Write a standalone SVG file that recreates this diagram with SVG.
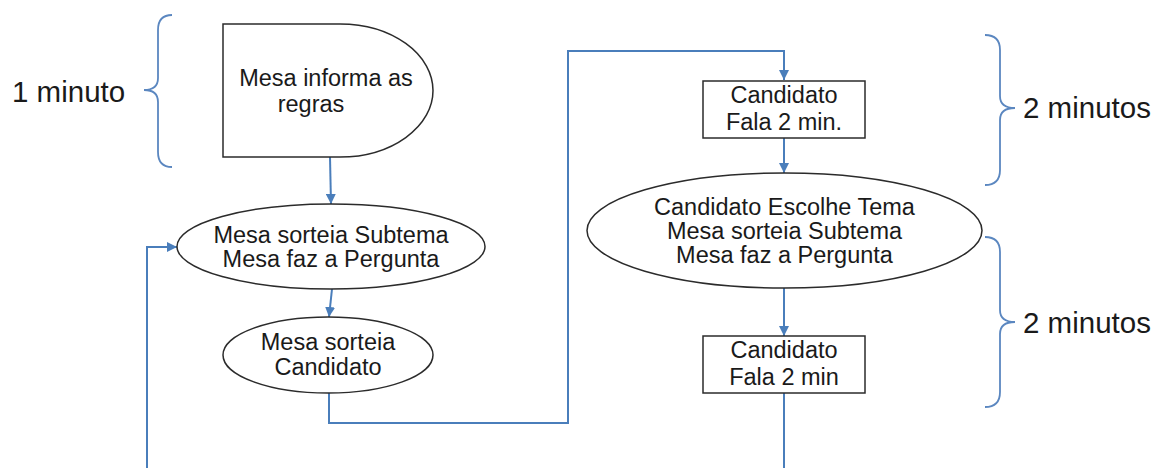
<svg xmlns="http://www.w3.org/2000/svg" width="1164" height="468" viewBox="0 0 1164 468">
<style>
.node{fill:#fff;stroke:#2b2b2b;stroke-width:1.5}
.t{font-family:"Liberation Sans",Arial,sans-serif;font-size:23.5px;fill:#1a1a1a;text-anchor:middle}
.lbl{font-family:"Liberation Sans",Arial,sans-serif;font-size:29.5px;fill:#1a1a1a}
.conn{fill:none;stroke:#4a7ebb;stroke-width:2}
.brace{fill:none;stroke:#5b87c0;stroke-width:1.8}
</style>
<defs>
<marker id="arr" viewBox="0 0 10 10" refX="10" refY="5" markerWidth="5" markerHeight="5" orient="auto" markerUnits="strokeWidth">
<path d="M0,0 L10,5 L0,10 Z" fill="#4a7ebb"/>
</marker>
</defs>
<g id="connectors">
<path class="conn" d="M330,157 L331,204" marker-end="url(#arr)"/>
<path class="conn" d="M332,289 L329,317" marker-end="url(#arr)"/>
<path class="conn" d="M329,393 V423 H568 V51 H784 V80" marker-end="url(#arr)"/>
<path class="conn" d="M784,138 V173" marker-end="url(#arr)"/>
<path class="conn" d="M784,288 V336" marker-end="url(#arr)"/>
<path class="conn" d="M784,393 V468"/>
<path class="conn" d="M147,468 V247 H177" marker-end="url(#arr)"/>
</g>
<g id="braces">
<path class="brace" d="M172,15 Q158,15 158,30 V78 Q158,90 144,90 Q158,90 158,102 V152 Q158,167 172,167"/>
<path class="brace" d="M985,35 Q1000,35 1000,50 V96 Q1000,108 1015,108 Q1000,108 1000,120 V170 Q1000,185 985,185"/>
<path class="brace" d="M985,237 Q1000,237 1000,252 V310 Q1000,322 1015,322 Q1000,322 1000,334 V392 Q1000,407 985,407"/>
</g>
<g id="n_regras">
<path class="node" d="M223,24 H340 A93,66.5 0 0 1 340,157 H223 Z"/>
<text class="t" x="326" y="86">Mesa informa as</text>
<text class="t" x="311" y="112">regras</text>
</g>
<g id="n_sorteia1">
<ellipse class="node" cx="331" cy="246.5" rx="154" ry="42.5"/>
<text class="t" x="331" y="243">Mesa sorteia Subtema</text>
<text class="t" x="331" y="267">Mesa faz a Pergunta</text>
</g>
<g id="n_candidato">
<ellipse class="node" cx="328" cy="355" rx="105" ry="38"/>
<text class="t" x="328" y="350">Mesa sorteia</text>
<text class="t" x="328" y="375">Candidato</text>
</g>
<g id="n_fala1">
<rect class="node" x="703" y="81" width="162" height="57"/>
<text class="t" x="784" y="103">Candidato</text>
<text class="t" x="784" y="130">Fala 2 min.</text>
</g>
<g id="n_tema">
<ellipse class="node" cx="784.5" cy="230.5" rx="197.5" ry="57.5"/>
<text class="t" x="784.5" y="215">Candidato Escolhe Tema</text>
<text class="t" x="784.5" y="239">Mesa sorteia Subtema</text>
<text class="t" x="784.5" y="263">Mesa faz a Pergunta</text>
</g>
<g id="n_fala2">
<rect class="node" x="703" y="336" width="162" height="57"/>
<text class="t" x="784" y="358">Candidato</text>
<text class="t" x="784" y="385">Fala 2 min</text>
</g>
<g id="labels">
<text class="lbl" x="12" y="102">1 minuto</text>
<text class="lbl" x="1023" y="118">2 minutos</text>
<text class="lbl" x="1023" y="333">2 minutos</text>
</g>
</svg>
